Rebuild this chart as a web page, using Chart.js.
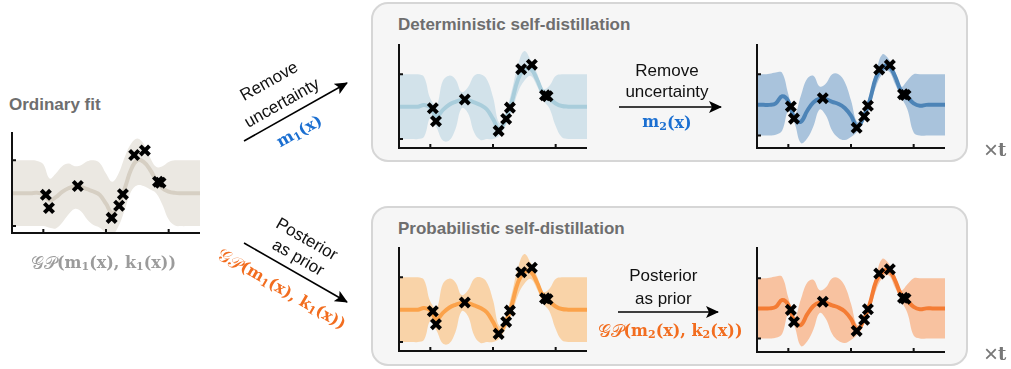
<!DOCTYPE html>
<html>
<head>
<meta charset="utf-8">
<script src="https://cdn.jsdelivr.net/npm/chart.js@4.4.1/dist/chart.umd.min.js"></script>
<style>
  body { margin: 0; background: #fff; width: 1011px; height: 369px; overflow: hidden; position: relative; font-family: "Liberation Sans", Arial, sans-serif; }
  .box { position: absolute; left: 371px; width: 593px; height: 156px; border: 2px solid #d6d6d6; border-radius: 17px; background: #f6f6f6; }
  .title { position: absolute; font-weight: bold; font-size: 17px; line-height: 17px; color: #6e6e6e; white-space: nowrap; }
  canvas { position: absolute; }
  svg { position: absolute; left: 0; top: 0; }
  .lbl { font-family: "Liberation Sans", Arial, sans-serif; font-size: 17px; fill: #111; }
  .math { font-family: "DejaVu Serif", serif; font-size: 16px; font-weight: bold; }
  .gp { font-weight: normal; font-size: 18px; }
  .times { font-family: "Liberation Sans", Arial, sans-serif; font-size: 24px; fill: #777; }
</style>
</head>
<body>
<div class="box" style="top:2px"></div>
<div class="box" style="top:206px"></div>
<div class="title" style="left:9px;top:96px">Ordinary fit</div>
<div class="title" style="left:398px;top:16px">Deterministic self-distillation</div>
<div class="title" style="left:398px;top:220px">Probabilistic self-distillation</div>

<canvas id="fit"></canvas>
<canvas id="det1"></canvas>
<canvas id="det2"></canvas>
<canvas id="prob1"></canvas>
<canvas id="prob2"></canvas>

<svg width="1011" height="369">
  <defs>
    <marker id="head" viewBox="0 0 13 12" refX="12" refY="6" markerWidth="13" markerHeight="12" markerUnits="userSpaceOnUse" orient="auto">
      <path d="M0,0 L13,6 L0,12 L3,6 z" fill="#000"/>
    </marker>
  </defs>
  <line x1="244" y1="141" x2="347" y2="83" stroke="#000" stroke-width="1.6" marker-end="url(#head)"/>
  <line x1="244" y1="243" x2="347" y2="302" stroke="#000" stroke-width="1.6" marker-end="url(#head)"/>
  <line x1="619" y1="107" x2="721" y2="107" stroke="#000" stroke-width="1.6" marker-end="url(#head)"/>
  <line x1="618" y1="312" x2="718" y2="312" stroke="#000" stroke-width="1.6" marker-end="url(#head)"/>

  <text class="lbl" transform="translate(269,81) rotate(-29.4)" text-anchor="middle" dominant-baseline="central">Remove</text>
  <text class="lbl" transform="translate(281.7,102.7) rotate(-29.4)" text-anchor="middle" dominant-baseline="central">uncertainty</text>
  <text class="math" fill="#1b6fd1" transform="translate(299,130.7) rotate(-29.4)" text-anchor="middle" dominant-baseline="central">m<tspan font-size="11" dy="4">1</tspan><tspan dy="-4">(x)</tspan></text>

  <text class="lbl" transform="translate(307,239) rotate(30)" text-anchor="middle" dominant-baseline="central">Posterior</text>
  <text class="lbl" transform="translate(298.3,257.3) rotate(30)" text-anchor="middle" dominant-baseline="central">as prior</text>
  <text class="math" fill="#f26d1f" transform="translate(282.3,288.3) rotate(30)" text-anchor="middle" dominant-baseline="central"><tspan class="gp">𝒢𝒫</tspan>(m<tspan font-size="11" dy="4">1</tspan><tspan dy="-4">(x), k</tspan><tspan font-size="11" dy="4">1</tspan><tspan dy="-4">(x))</tspan></text>

  <text class="lbl" x="667" y="70" text-anchor="middle" dominant-baseline="central">Remove</text>
  <text class="lbl" x="667" y="91.7" text-anchor="middle" dominant-baseline="central">uncertainty</text>
  <text class="math" fill="#1b6fd1" x="667" y="121.7" text-anchor="middle" dominant-baseline="central">m<tspan font-size="11" dy="4">2</tspan><tspan dy="-4">(x)</tspan></text>

  <text class="lbl" x="663.3" y="275" text-anchor="middle" dominant-baseline="central">Posterior</text>
  <text class="lbl" x="663.3" y="298.3" text-anchor="middle" dominant-baseline="central">as prior</text>
  <text class="math" fill="#f26d1f" x="670" y="330" text-anchor="middle" dominant-baseline="central"><tspan class="gp">𝒢𝒫</tspan>(m<tspan font-size="11" dy="4">2</tspan><tspan dy="-4">(x), k</tspan><tspan font-size="11" dy="4">2</tspan><tspan dy="-4">(x))</tspan></text>

  <text class="math" fill="#9b9b9b" x="103.5" y="262" text-anchor="middle" dominant-baseline="central"><tspan class="gp">𝒢𝒫</tspan>(m<tspan font-size="11" dy="4">1</tspan><tspan dy="-4">(x), k</tspan><tspan font-size="11" dy="4">1</tspan><tspan dy="-4">(x))</tspan></text>

  <text class="times" x="984" y="149" dominant-baseline="central">×<tspan font-family="DejaVu Serif" font-weight="bold" font-size="18">t</tspan></text>
  <text class="times" x="984" y="353" dominant-baseline="central">×<tspan font-family="DejaVu Serif" font-weight="bold" font-size="18">t</tspan></text>
</svg>

<script>
// grid the curves are read on
const gridX = [-0.5, -0.4, -0.3, -0.2, -0.1, 0.0, 0.1, 0.2, 0.3, 0.4, 0.5, 0.6, 0.7, 0.8, 0.9, 1.0,
               1.1, 1.2, 1.3, 1.4, 1.5, 1.6, 1.7, 1.8, 1.9, 2.0, 2.1, 2.2, 2.3, 2.4, 2.5]

// observations (same in every panel)
const pointX = [0.04, 0.09, 0.55, 1.09, 1.21, 1.27, 1.45, 1.62, 1.83, 1.87]
const pointY = [-0.05, -0.45, 0.22, -0.75, -0.38, -0.03, 1.16, 1.30, 0.35, 0.32]

const xTicks = [0, 1, 2]
const yTicks = [-1, 1]

// ordinary fit
const fitMean  = [0, 0, 0, 0, 0.01, -0.03, -0.22, -0.12, 0.04, 0.15, 0.21, 0.19, 0.12, 0.05, -0.05, -0.32,
                  -0.6, -0.35, 0.15, 0.72, 1.0, 0.95, 0.72, 0.4, 0.15, 0.05, 0.01, 0, 0, 0, 0]
const fitUpper = [1, 1, 1, 1, 0.98, 0.88, 0.45, 0.6, 0.82, 0.9, 0.82, 0.85, 0.97, 1.0, 0.92, 0.6,
                  0.35, 0.6, 1.1, 1.5, 1.66, 1.5, 1.1, 0.8, 0.82, 0.95, 1.0, 1, 1, 1, 1]
const fitLower = [-1, -1, -1, -1, -1, -1.0, -1.05, -1.07, -0.9, -0.65, -0.48, -0.55, -0.8, -0.97, -1.05, -1.2,
                  -1.27, -1.0, -0.5, 0.05, 0.24, 0.22, 0.12, 0.0, -0.35, -0.8, -0.98, -1, -1, -1, -1]

// first self-distillation step
const stepOneMean  = [0, 0, 0, 0, 0.05, -0.02, -0.3, -0.1, 0.06, 0.15, 0.21, 0.2, 0.13, 0.05, -0.08, -0.38,
                      -0.7, -0.4, 0.15, 0.85, 1.15, 1.18, 0.85, 0.42, 0.25, 0.1, 0.02, 0, 0, 0, 0]
const stepOneUpper = [1, 1, 1, 1, 0.92, 0.25, 0.05, 0.8, 0.96, 0.85, 0.45, 0.6, 0.96, 1.0, 0.85, 0.3,
                      -0.5, -0.2, 0.5, 1.3, 1.72, 1.45, 1.05, 0.55, 0.65, 0.95, 1.0, 1, 1, 1, 1]
const stepOneLower = [-1, -1, -1, -1, -0.93, -0.35, -0.65, -1.05, -1.05, -0.7, -0.05, -0.2, -0.8, -1.03, -1.0, -1.0,
                      -0.9, -0.6, -0.15, 0.45, 0.8, 0.95, 0.65, 0.2, -0.05, -0.6, -0.95, -1, -1, -1, -1]

// second self-distillation step
const stepTwoMean  = [0, 0, 0, 0.05, 0.28, 0.12, -0.45, -0.55, -0.2, 0.08, 0.2, 0.18, 0.1, 0.03, -0.1, -0.35,
                      -0.72, -0.4, 0.15, 0.9, 1.2, 1.28, 0.95, 0.45, 0.25, 0.05, -0.03, 0, 0, 0, 0]
const stepTwoUpper = [1, 1, 1.02, 1.06, 1.05, 0.35, -0.3, 0.3, 0.85, 0.95, 0.6, 0.7, 1.0, 1.0, 0.75, 0.15,
                      -0.55, -0.25, 0.35, 1.1, 1.65, 1.5, 1.1, 0.6, 0.8, 1.0, 1.0, 1, 1, 1, 1]
const stepTwoLower = [-1, -1, -1, -0.98, -0.85, -0.2, -0.6, -1.25, -1.1, -0.7, -0.15, -0.35, -0.85, -1.08, -1.15, -1.05,
                      -0.88, -0.55, -0.05, 0.6, 1.0, 1.1, 0.7, 0.25, -0.15, -0.9, -1.0, -1, -1, -1, -1]

const panels = [
  { id: 'fit',   left: 12,  right: 200, top: 132, bottom: 233, yMin: -1.21, yMax: 1.86,
    mean: fitMean, upper: fitUpper, lower: fitLower, band: '#ebe8e2', line: '#d6cfc3' },
  { id: 'det1',  left: 399, right: 587, top: 44,  bottom: 148, yMin: -1.28, yMax: 1.94,
    mean: stepOneMean, upper: stepOneUpper, lower: stepOneLower, band: '#d2e2ea', line: '#a9cddb' },
  { id: 'det2',  left: 757, right: 945, top: 44,  bottom: 148, yMin: -1.41, yMax: 1.99,
    mean: stepTwoMean, upper: stepTwoUpper, lower: stepTwoLower, band: '#a9c3dc', line: '#4d84b7' },
  { id: 'prob1', left: 399, right: 587, top: 247, bottom: 351, yMin: -1.28, yMax: 1.94,
    mean: stepOneMean, upper: stepOneUpper, lower: stepOneLower, band: '#f9d3a8', line: '#fba24a' },
  { id: 'prob2', left: 757, right: 945, top: 247, bottom: 352, yMin: -1.45, yMax: 2.04,
    mean: stepTwoMean, upper: stepTwoUpper, lower: stepTwoLower, band: '#f8c2a0', line: '#f47c34' }
]

const pad = { left: 3, right: 1, top: 2, bottom: 3 }

// left and bottom spines with inward ticks
const spines = {
  id: 'spines',
  afterDatasetsDraw(chart) {
    const { ctx, chartArea: a, scales: { x, y } } = chart
    ctx.save()
    ctx.strokeStyle = '#111'
    ctx.lineWidth = 2
    ctx.beginPath()
    ctx.moveTo(a.left, a.top)
    ctx.lineTo(a.left, a.bottom + 1)
    ctx.moveTo(a.left - 1, a.bottom)
    ctx.lineTo(a.right, a.bottom)
    xTicks.forEach(v => {
      const px = x.getPixelForValue(v)
      ctx.moveTo(px, a.bottom)
      ctx.lineTo(px, a.bottom - 4)
    })
    yTicks.forEach(v => {
      const py = y.getPixelForValue(v)
      ctx.moveTo(a.left, py)
      ctx.lineTo(a.left + 4, py)
    })
    ctx.stroke()
    ctx.restore()
  }
}

const toXY = ys => gridX.map((x, i) => ({ x, y: ys[i] }))

panels.forEach(p => {
  const cv = document.getElementById(p.id)
  cv.width = p.right - p.left + pad.left + pad.right
  cv.height = p.bottom - p.top + pad.top + pad.bottom
  cv.style.left = (p.left - pad.left) + 'px'
  cv.style.top = (p.top - pad.top) + 'px'

  new Chart(cv, {
    type: 'scatter',
    data: {
      datasets: [
        { data: pointX.map((x, i) => ({ x, y: pointY[i] })), pointStyle: 'crossRot', pointRadius: 6.5,
          borderColor: '#000', backgroundColor: '#000', borderWidth: 4, showLine: false, order: 0, clip: false },
        { data: toXY(p.mean), showLine: true, borderColor: p.line, borderWidth: 4, pointRadius: 0,
          tension: 0.4, fill: false, order: 1 },
        { data: toXY(p.upper), showLine: true, borderColor: 'transparent', borderWidth: 0, pointRadius: 0,
          backgroundColor: p.band, fill: '+1', tension: 0.4, order: 2 },
        { data: toXY(p.lower), showLine: true, borderColor: 'transparent', borderWidth: 0, pointRadius: 0,
          fill: false, tension: 0.4, order: 3 }
      ]
    },
    options: {
      responsive: false,
      animation: false,
      devicePixelRatio: 1,
      events: [],
      layout: { padding: pad, autoPadding: false },
      plugins: { legend: { display: false }, tooltip: { enabled: false } },
      scales: {
        x: { type: 'linear', min: -0.5, max: 2.5, display: false },
        y: { type: 'linear', min: p.yMin, max: p.yMax, display: false }
      }
    },
    plugins: [spines]
  })
})
</script>
</body>
</html>
